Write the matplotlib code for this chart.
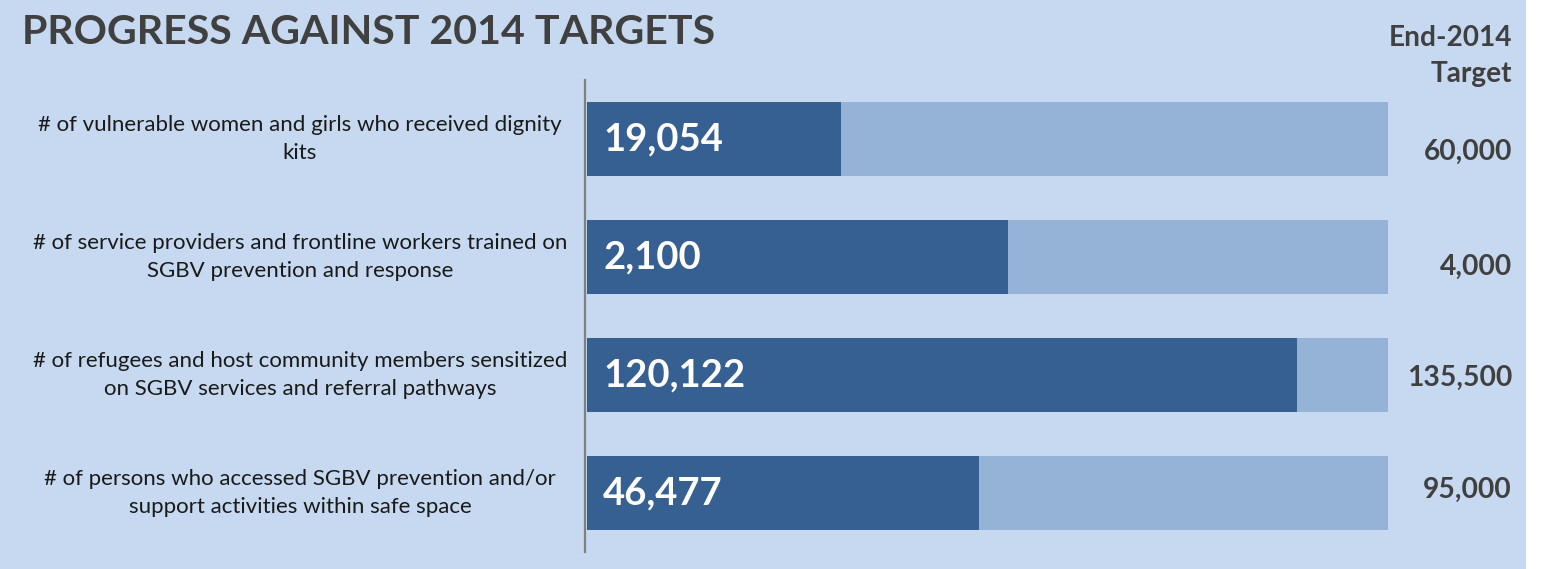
import matplotlib

matplotlib.use("Agg")
import matplotlib.pyplot as plt
import matplotlib.transforms as mtransforms
from matplotlib.patches import Rectangle

plt.rcParams["font.family"] = ["Lato", "DejaVu Sans"]

categories = [
    "# of vulnerable women and girls who received dignity\nkits",
    "# of service providers and frontline workers trained on\nSGBV prevention and response",
    "# of refugees and host community members sensitized\non SGBV services and referral pathways",
    "# of persons who accessed SGBV prevention and/or\nsupport activities within safe space",
]
achieved = [19054, 2100, 120122, 46477]
targets = [60000, 4000, 135500, 95000]

# small vertical nudges of the target labels, as placed in the original
target_nudge = [0.11, 0.085, 0.025, -0.025]

BG = "#c6d9f0"
DARK = "#376092"
LIGHT = "#95b3d7"
GREY_TEXT = "#404040"

W, H = 1542, 569
fig = plt.figure(figsize=(W / 100, H / 100), dpi=100, facecolor="white")
fig.patches.append(Rectangle((0, 0), 1526 / W, 1, transform=fig.transFigure,
                             facecolor=BG, edgecolor="none", zorder=-10))

ax = fig.add_axes([585 / W, (H - 552) / H, (1388 - 585) / W, 472 / H])
ax.set_facecolor("none")

y = list(range(len(categories)))
share = [a / t for a, t in zip(achieved, targets)]

ax.barh(y, [1] * len(y), height=0.627, color=LIGHT, left=0)
ax.barh(y, share, height=0.627, color=DARK, left=0)

ax.set_xlim(-0.0025, 1)
ax.set_ylim(len(y) - 0.5, -0.5)
for side in ["top", "right", "bottom"]:
    ax.spines[side].set_visible(False)
ax.spines["left"].set_color("#808080")
ax.spines["left"].set_linewidth(1.6)
ax.set_xticks([])
ax.set_yticks([])

trans = mtransforms.blended_transform_factory(fig.transFigure, ax.transData)
for i, (cat, a, t) in enumerate(zip(categories, achieved, targets)):
    ax.text(300 / W, i, cat, transform=trans, ha="center", va="center",
            fontsize=16, color="#1a1a1a", linespacing=1.45)
    ax.text(0.02, i, f"{a:,}", ha="left", va="center", fontsize=27.5,
            fontweight="bold", color="white")
    ax.text(1512 / W, i + target_nudge[i], f"{t:,}", transform=trans, ha="right",
            va="center", fontsize=20.3, fontweight="bold", color=GREY_TEXT)

fig.text(22 / W, 1 - 33 / H, "PROGRESS AGAINST 2014 TARGETS", ha="left", va="center",
         fontsize=29.6, fontweight="bold", color=GREY_TEXT)
fig.text(1512 / W, 1 - 56 / H, "End-2014\nTarget", ha="right", va="center",
         multialignment="right", fontsize=20.2, fontweight="bold", color=GREY_TEXT,
         linespacing=1.45)

fig.savefig("out.png", dpi=100, facecolor=fig.get_facecolor())
